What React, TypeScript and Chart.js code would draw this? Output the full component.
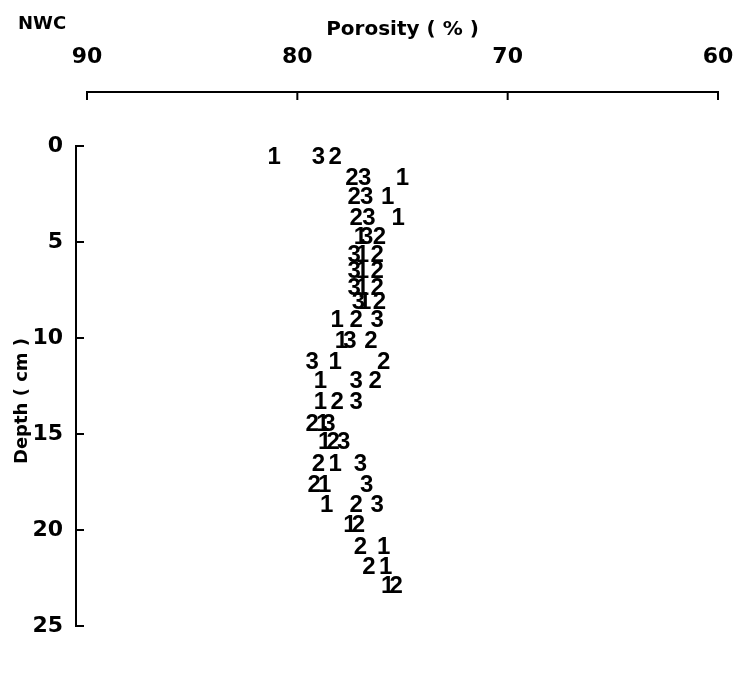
import React, { useEffect, useRef } from 'react';
import { Chart, registerables } from 'chart.js';

Chart.register(...registerables);

// Tick labels
const porosityTicks = [90, 80, 70, 60];
const depthTicks = [0, 5, 10, 15, 20, 25];

// Core 1
const depth1 = [0.6, 1.7, 2.7, 3.75, 4.75, 5.7, 6.55, 7.4, 8.15, 9.1, 10.2, 11.25, 12.25, 13.35, 14.5, 15.45, 16.6, 17.65, 18.7, 19.75, 20.9, 21.95, 22.95];
const porosity1 = [81.1, 75.0, 75.7, 75.2, 77.0, 76.9, 76.9, 76.9, 76.8, 78.1, 77.9, 78.2, 78.9, 78.9, 78.8, 78.7, 78.2, 78.7, 78.6, 77.5, 75.9, 75.8, 75.7];

// Core 2
const depth2 = [0.6, 1.7, 2.7, 3.75, 4.75, 5.7, 6.55, 7.4, 8.15, 9.1, 10.2, 11.25, 12.25, 13.35, 14.5, 15.45, 16.6, 17.65, 18.7, 19.75, 20.9, 21.95, 22.95];
const porosity2 = [78.2, 77.4, 77.3, 77.2, 76.1, 76.2, 76.2, 76.2, 76.1, 77.2, 76.5, 75.9, 76.3, 78.1, 79.3, 78.3, 79.0, 79.2, 77.2, 77.1, 77.0, 76.6, 75.3];

// Core 3
const depth3 = [0.6, 1.7, 2.7, 3.75, 4.75, 5.7, 6.55, 7.4, 8.15, 9.1, 10.2, 11.25, 12.25, 13.35, 14.5, 15.45, 16.6, 17.65, 18.7];
const porosity3 = [79.0, 76.8, 76.7, 76.6, 76.7, 77.3, 77.3, 77.3, 77.1, 76.2, 77.5, 79.3, 77.2, 77.2, 78.5, 77.8, 77.0, 76.7, 76.2];

const seriesLabels = ['1', '2', '3'];

const DIGIT_FONT = "'Liberation Sans Narrow', 'Liberation Sans', Arial, sans-serif";
const LABEL_FONT = "'DejaVu Sans', 'Liberation Sans', sans-serif";

const digitPlugin = {
  id: 'digitMarks',
  afterDatasetsDraw(chart: any) {
    const ctx = chart.ctx;
    ctx.save();
    ctx.fillStyle = '#000';
    ctx.font = `bold 24px ${DIGIT_FONT}`;
    ctx.textAlign = 'center';
    ctx.textBaseline = 'middle';
    chart.data.datasets.forEach((ds: any, i: number) => {
      const meta = chart.getDatasetMeta(i);
      meta.data.forEach((el: any) => {
        ctx.fillText(ds.label, el.x, el.y);
      });
    });
    ctx.restore();
  },
};

const axesPlugin = {
  id: 'offsetAxes',
  afterDraw(chart: any) {
    const { ctx, chartArea, scales } = chart;
    const x = scales.x;
    const y = scales.y;
    ctx.save();
    ctx.strokeStyle = '#000';
    ctx.lineWidth = 2;
    ctx.lineCap = 'butt';
    // top porosity axis
    const axY = chartArea.top - 54;
    ctx.beginPath();
    ctx.moveTo(x.getPixelForValue(90), axY);
    ctx.lineTo(x.getPixelForValue(60), axY);
    ctx.stroke();
    porosityTicks.forEach((v) => {
      const px = x.getPixelForValue(v);
      ctx.beginPath();
      ctx.moveTo(px, axY - 1);
      ctx.lineTo(px, axY + 8);
      ctx.stroke();
    });
    // left depth axis
    const axX = chartArea.left - 11;
    ctx.beginPath();
    ctx.moveTo(axX, y.getPixelForValue(0));
    ctx.lineTo(axX, y.getPixelForValue(25));
    ctx.stroke();
    depthTicks.forEach((v) => {
      const py = y.getPixelForValue(v);
      ctx.beginPath();
      ctx.moveTo(axX - 1, py);
      ctx.lineTo(axX + 8, py);
      ctx.stroke();
    });
    // panel label
    ctx.fillStyle = '#000';
    ctx.font = `bold 18px ${LABEL_FONT}`;
    ctx.textAlign = 'left';
    ctx.textBaseline = 'middle';
    ctx.fillText('NWC', 18, 24);
    // depth axis title (placed slightly below the axis centre, as in the original)
    ctx.save();
    ctx.translate(22, (chartArea.top + chartArea.bottom) / 2 + 15);
    ctx.rotate(-Math.PI / 2);
    ctx.textAlign = 'center';
    ctx.font = `bold 18px ${LABEL_FONT}`;
    ctx.fillText('Depth ( cm )', 0, 0);
    ctx.restore();
    ctx.restore();
  },
};

function makePoints(xs: number[], ys: number[]) {
  return xs.map((v, i) => ({ x: v, y: ys[i] }));
}

export default function App() {
  const ref = useRef<HTMLCanvasElement | null>(null);

  useEffect(() => {
    document.body.style.margin = '0';
    document.body.style.background = '#fff';
    const canvas = ref.current;
    if (!canvas) return;
    const chart = new Chart(canvas, {
      type: 'scatter',
      data: {
        datasets: [
          { label: seriesLabels[0], data: makePoints(porosity1, depth1) },
          { label: seriesLabels[1], data: makePoints(porosity2, depth2) },
          { label: seriesLabels[2], data: makePoints(porosity3, depth3) },
        ].map((d) => ({ ...d, pointRadius: 0, pointHoverRadius: 0, showLine: false, clip: false })),
      },
      options: {
        animation: false,
        responsive: false,
        devicePixelRatio: 1,
        events: [],
        layout: { padding: { top: 10, left: 12, right: 19, bottom: 51 } },
        plugins: {
          legend: { display: false },
          tooltip: { enabled: false },
          title: { display: false },
        },
        scales: {
          x: {
            type: 'linear',
            position: 'top',
            min: 60,
            max: 90,
            reverse: true,
            afterBuildTicks: (s: any) => {
              s.ticks = porosityTicks.map((v) => ({ value: v }));
            },
            afterFit: (s: any) => {
              s.height = 136;
              s.paddingLeft = 0;
              s.paddingRight = 0;
            },
            grid: { display: false, drawTicks: false },
            border: { display: false },
            ticks: {
              color: '#000',
              padding: 76,
              maxRotation: 0,
              font: { family: LABEL_FONT, size: 22, weight: 'bold' },
            },
            title: {
              display: true,
              text: 'Porosity ( % )',
              color: '#000',
              padding: { top: 8, bottom: 0 },
              font: { family: LABEL_FONT, size: 20, weight: 'bold' },
            },
          },
          y: {
            type: 'linear',
            position: 'left',
            min: 0,
            max: 25,
            reverse: true,
            afterBuildTicks: (s: any) => {
              s.ticks = depthTicks.map((v) => ({ value: v }));
            },
            afterFit: (s: any) => {
              s.width = 75;
              s.paddingTop = 0;
              s.paddingBottom = 0;
            },
            grid: { display: false, drawTicks: false },
            border: { display: false },
            ticks: {
              color: '#000',
              padding: 24,
              font: { family: LABEL_FONT, size: 22, weight: 'bold' },
            },
            title: { display: false },
          },
        },
      },
      plugins: [digitPlugin, axesPlugin],
    });
    return () => chart.destroy();
  }, []);

  return (
    <div style={{ width: 737, height: 677, background: '#fff' }}>
      <canvas ref={ref} width={737} height={677} style={{ display: 'block', width: 737, height: 677 }} />
    </div>
  );
}
